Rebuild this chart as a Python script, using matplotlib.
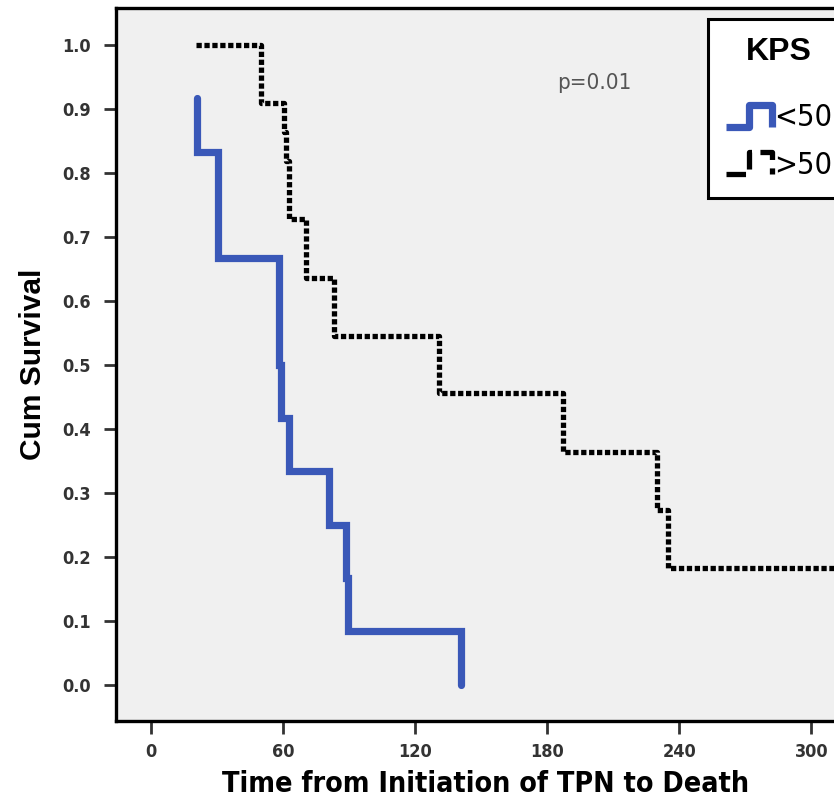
#Kaplan-Meier survival by KPS group
import matplotlib as mpl
mpl.use('Agg')
import matplotlib.pyplot as plt
from matplotlib import font_manager
from matplotlib.legend_handler import HandlerBase
from matplotlib.lines import Line2D
import numpy as np

# event times (days) and survival after each event
low_kps_times = [21.0, 21.0, 30.4, 58.4, 59.3, 63.0, 81.1, 88.9, 89.8, 141.0]
low_kps_surv = [0.917, 0.833, 0.667, 0.500, 0.417, 0.333, 0.250, 0.167, 0.083, 0.0]

high_kps_times = [20.5, 50.1, 60.7, 61.5, 62.8, 70.5, 83.4, 131.0, 187.0, 230.0, 235.0, 340.0]
high_kps_surv = [1.0, 0.909, 0.864, 0.818, 0.727, 0.636, 0.545, 0.455, 0.364, 0.273, 0.182, 0.182]

x_ticks = [0, 60, 120, 180, 240, 300]
y_ticks = [0.0, 0.1, 0.2, 0.3, 0.4, 0.5, 0.6, 0.7, 0.8, 0.9, 1.0]
group_labels = ['<50', '>50']

blue = '#3a58b8'

# look for a narrow font, else squeeze DejaVu
names = set(f.name for f in font_manager.fontManager.ttflist)
cond = [f for f in font_manager.fontManager.ttflist
        if f.name == 'DejaVu Sans' and 'ondensed' in str(f.stretch) + f.fname]
if 'Liberation Sans Narrow' in names:
    narrow = dict(family=['Liberation Sans Narrow', 'DejaVu Sans'])
elif cond:
    narrow = dict(family=['DejaVu Sans'], stretch='condensed')
else:
    narrow = dict(family=['Roboto', 'DejaVu Sans'], stretch='condensed')


class StepHandler(HandlerBase):
    def create_artists(self, legend, orig_handle, xdescent, ydescent,
                       width, height, fontsize, trans):
        xs = np.array([0.0, 0.5, 0.5, 1.0, 1.0]) * width - xdescent
        ys = np.array([0.05, 0.05, 0.95, 0.95, 0.05]) * height - ydescent
        ln = Line2D(xs, ys, color=orig_handle.get_color(),
                    lw=orig_handle.get_linewidth(),
                    linestyle=orig_handle.get_linestyle(),
                    solid_capstyle='butt', dash_capstyle='butt')
        ln.set_transform(trans)
        return [ln]


# axes runs past the right edge of the picture, as in the cropped original
fig = plt.figure(figsize=(8.34, 8.05), dpi=100)
ax = fig.add_axes([116 / 834, 1 - 721 / 805, (856 - 116) / 834, (721 - 8.3) / 805])
ax.set_facecolor('#f0f0f0')

l1, = ax.step(low_kps_times, low_kps_surv, where='post', color=blue, lw=5.2,
              solid_capstyle='round', solid_joinstyle='miter')
l2, = ax.step(high_kps_times, high_kps_surv, where='post', color='black', lw=3.8,
              linestyle=(0, (1.0, 0.5)), dash_capstyle='butt')

ax.set_xlim(-15.7, 320.2)
ax.set_ylim(-0.057, 1.057)
ax.set_xticks(x_ticks)
ax.set_yticks(y_ticks)
ax.set_yticklabels(['%.1f' % v for v in y_ticks])

for side in ['top', 'right', 'left', 'bottom']:
    ax.spines[side].set_linewidth(2.4)
ax.tick_params(axis='both', direction='out', length=9, width=2, color='#333333',
               pad=9, labelcolor='#333333')
ax.tick_params(axis='x', pad=7)
for lab in ax.get_xticklabels() + ax.get_yticklabels():
    lab.set(fontweight='bold', fontsize=13, **narrow)

ax.set_xlabel('Time from Initiation of TPN to Death', fontweight='bold',
              fontsize=20.5, labelpad=6, **narrow)
ax.set_ylabel('Cum Survival', family=['Liberation Sans', 'DejaVu Sans'],
              fontweight='bold', fontsize=21.5, labelpad=11)

ax.text(201.6, 0.94, 'p=0.01', fontsize=16, color='#555555',
        ha='center', va='center', **narrow)

leg = ax.legend([l1, l2], group_labels, title='KPS',
                handler_map={Line2D: StepHandler()},
                loc='upper left', bbox_to_anchor=(0.8, 0.985), borderaxespad=0,
                fancybox=False, framealpha=1, edgecolor='black',
                handlelength=1.5, handleheight=0.85, handletextpad=0.05,
                borderpad=0.6, labelspacing=0.6,
                prop=dict(size=22, **narrow))
leg.get_frame().set_linewidth(2.2)
leg.get_title().set_fontweight('bold')
leg.get_title().set_fontsize(23)
leg.get_title().set_family(['Liberation Sans', 'DejaVu Sans'])
leg._legend_box.sep = 26

plt.savefig('out.png', dpi=100)
